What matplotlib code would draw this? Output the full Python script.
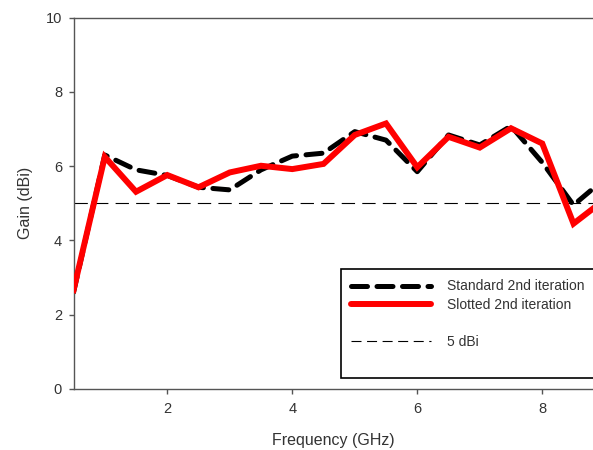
import numpy as np
import matplotlib
matplotlib.use("Agg")
import matplotlib.pyplot as plt
from matplotlib.lines import Line2D

plt.rcParams['font.family'] = ['Liberation Sans', 'DejaVu Sans']

# frequency points (GHz)
freq = [0.5, 1.0, 1.5, 2.0, 2.5, 3.0, 3.5, 4.0, 4.5,
        5.0, 5.5, 6.0, 6.5, 7.0, 7.5, 8.0, 8.5, 9.0]
# gain (dBi)
gain_standard = [2.60, 6.30, 5.90, 5.75, 5.43, 5.36, 5.90, 6.27, 6.35,
                 6.93, 6.70, 5.85, 6.84, 6.57, 7.08, 6.10, 4.95, 5.66]
gain_slotted = [2.66, 6.25, 5.31, 5.76, 5.43, 5.83, 6.01, 5.92, 6.06,
                6.84, 7.15, 5.97, 6.79, 6.50, 7.02, 6.61, 4.45, 5.10]
ref_level = 5.0

x_ticks = [2, 4, 6, 8]
y_ticks = [0, 2, 4, 6, 8, 10]

text_col = '#333333'
spine_col = '#555555'

fig = plt.figure(figsize=(5.93, 4.5), dpi=100)
ax = fig.add_axes([0.124, 0.136, 0.876, 0.8247])

std_dash = (3.2, 1.9)
ax.axhline(ref_level, color='black', lw=0.8, dashes=(12, 6.5), zorder=1)
ax.plot(freq, gain_standard, color='black', lw=3.6, dashes=std_dash,
        dash_capstyle='round', solid_joinstyle='round', zorder=2)
ax.plot(freq, gain_slotted, color='#ff0000', lw=4.3,
        solid_joinstyle='miter', zorder=3)

ax.set_xlim(0.5, 8.812)
ax.set_ylim(0, 10)
ax.set_xticks(x_ticks)
ax.set_yticks(y_ticks)

for side in ['left', 'bottom', 'top']:
    ax.spines[side].set_color(spine_col)
    ax.spines[side].set_linewidth(1.0)
ax.spines['right'].set_visible(False)

ax.tick_params(direction='out', length=3.8, width=1.0, color=spine_col,
               labelcolor=text_col, labelsize=10.5, pad=4.5)
ax.tick_params(axis='x', pad=6)

ax.set_xlabel('Frequency (GHz)', fontsize=11.5, color=text_col, labelpad=12)
ax.set_ylabel('Gain (dBi)', fontsize=11.5, color=text_col, labelpad=9)

handles = [
    Line2D([], [], color='black', lw=3.6, dashes=std_dash, dash_capstyle='round'),
    Line2D([], [], color='#ff0000', lw=4.3, solid_capstyle='round'),
    Line2D([], [], linestyle='none'),
    Line2D([], [], color='black', lw=0.8, dashes=(9, 5)),
    Line2D([], [], linestyle='none'),
]
labels = ['Standard 2nd iteration', 'Slotted 2nd iteration', ' ', '5 dBi', ' ']
leg = ax.legend(handles, labels, loc='upper left', bbox_to_anchor=(0.515, 0.3226),
                borderaxespad=0, fontsize=10, handlelength=5.7, handletextpad=1.2,
                labelspacing=0.33, borderpad=0.75, fancybox=False, framealpha=1)
leg.get_frame().set_edgecolor('black')
leg.get_frame().set_linewidth(1.2)
for t in leg.get_texts():
    t.set_color(text_col)

fig.savefig('out.png', dpi=100)
